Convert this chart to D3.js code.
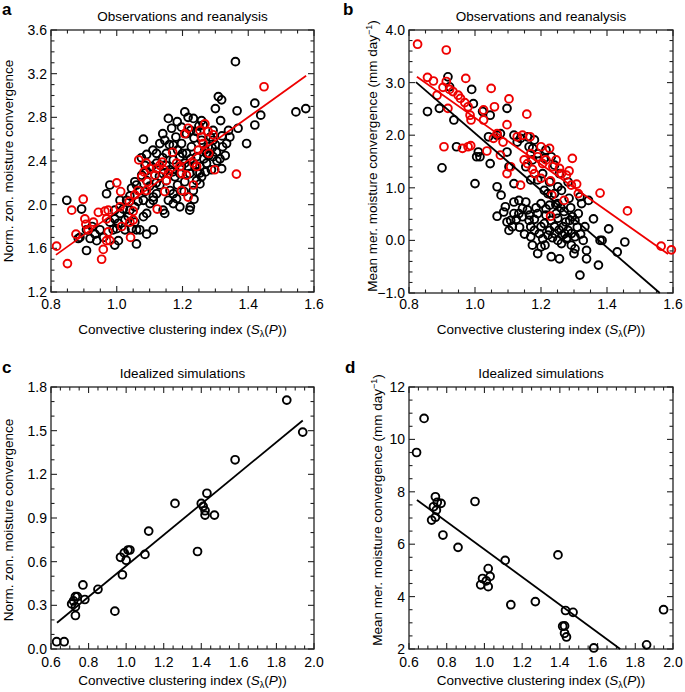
<!DOCTYPE html>
<html><head><meta charset="utf-8">
<script src="https://cdn.jsdelivr.net/npm/d3@7"></script>
<style>body{margin:0;background:#fff}svg{display:block}text{font-family:"Liberation Sans",Arial,Helvetica,sans-serif}</style>
</head><body>
<svg id="c" width="685" height="692"></svg>
<script>
// ---------- DATA ----------
const titleObs = "Observations and reanalysis";
const titleSim = "Idealized simulations";
const yLabelZon = "Norm. zon. moisture convergence";
const yLabelMer = "Mean mer. moisture convergence (mm day";

// Panel a (x: clustering index, y: norm. zonal moisture convergence)
const aBlack = [[1.361,3.31],[1.545,2.85],[1.575,2.88],[1.42,2.93],[1.438,2.82],[1.42,2.73],[1.395,2.56],[1.366,2.86],[1.369,2.70],[1.344,2.62],
[1.309,2.99],[1.319,2.96],[1.30,2.88],[1.316,2.77],[1.322,2.53],[1.314,2.42],[1.319,2.33],[1.293,2.44],[1.258,2.59],[1.233,2.79],
[1.207,2.85],[1.217,2.80],[1.157,2.79],[1.184,2.76],[1.258,2.77],[1.263,2.73],[1.293,2.68],[1.172,2.545],[1.146,2.59],[1.131,2.56],
[1.121,2.47],[1.081,2.60],[1.091,2.46],[1.106,2.35],[1.192,2.44],[1.212,2.47],[1.227,2.53],[1.243,2.44],[1.238,2.35],[1.253,2.29],
[1.273,2.38],[1.288,2.32],[1.172,2.41],[1.162,2.32],[1.177,2.255],[1.197,2.35],[1.207,2.21],[1.222,2.285],[1.233,2.13],[1.253,2.19],
[1.258,2.255],[1.141,2.285],[1.131,2.18],[1.121,2.10],[1.111,2.04],[1.157,2.04],[1.172,2.01],[1.182,2.055],[1.146,1.92],[1.141,1.95],
[1.222,1.95],[1.224,1.98],[1.192,1.98],[1.086,2.36],[1.076,2.27],[1.091,2.22],[1.07,2.13],[1.06,2.18],[1.081,2.04],[1.101,2.01],
[1.111,2.07],[1.055,2.21],[1.091,1.92],[1.045,2.15],[1.03,2.04],[1.02,1.96],[1.01,1.92],[1.035,1.89],[1.055,1.98],[1.055,1.84],
[1.06,1.77],[1.045,1.78],[1.07,1.77],[1.091,1.73],[1.111,1.77],[0.994,1.87],[1.005,1.83],[0.979,1.84],[0.989,1.77],[0.994,1.63],
[1.005,1.67],[0.969,2.10],[0.979,2.18],[0.949,1.77],[0.934,1.73],[0.919,1.69],[0.908,1.77],[0.939,1.67],[0.888,1.70],[0.883,1.69],
[0.908,1.58],[0.848,2.04],[0.893,1.96],[1.06,1.64],[1.167,2.70],[1.197,2.71],[1.212,2.65],[1.243,2.67],[1.278,2.53],[1.293,2.59],
[1.303,2.48],[1.197,2.56],[1.151,2.47],[1.121,2.38],[1.116,2.27],[1.207,2.38],[1.192,2.285],[1.217,2.35],[1.151,2.22],[1.162,2.13],
[1.172,2.10],[1.253,2.35],[1.243,2.22],[1.273,2.47],[1.334,2.56],[1.01,2.04],[0.994,1.95],[1.025,1.77],[1.081,1.89],[1.185,2.50],
[1.235,2.61],[1.268,2.50],[1.29,2.52],[1.305,2.40],[1.33,2.45],[1.14,2.43],[1.16,2.55],[1.09,2.31],[1.04,2.08],[0.96,1.70],
[1.18,2.62],[1.20,2.47],[1.225,2.42],[1.245,2.30],[1.265,2.42],[1.28,2.45],[1.30,2.55],[1.32,2.63],[1.15,2.36],[1.17,2.30],
[1.13,2.26],[1.10,2.17],[1.12,2.20],[1.085,2.12],[1.065,2.03],[1.04,1.95],[1.025,1.86],[1.00,1.78],[1.185,2.18],[1.205,2.12],
[1.235,2.05],[1.27,2.30],[1.285,2.62],[1.34,2.68],[1.25,2.72],[1.225,2.68],[1.14,2.65],[1.11,2.50],[1.075,2.43],[0.925,1.80]];
const aRed = [[0.817,1.62],[0.85,1.46],[0.863,1.95],[0.898,2.05],[0.876,1.73],[0.903,1.87],[0.906,1.82],[0.913,1.77],[0.929,1.84],[0.944,1.93],
[0.964,1.94],[0.969,1.87],[0.974,1.95],[0.974,1.75],[0.969,1.67],[0.959,1.59],[0.954,1.50],[0.979,1.67],[1.0,2.20],[1.012,2.12],
[1.01,1.98],[1.015,1.80],[1.04,1.84],[1.042,1.70],[1.038,2.03],[1.05,1.94],[1.055,2.09],[1.065,2.13],[1.067,2.41],[1.076,2.255],
[1.083,2.30],[1.09,2.38],[1.093,2.21],[1.09,2.13],[1.123,1.96],[1.116,2.27],[1.121,2.33],[1.131,2.36],[1.139,2.39],[1.143,2.32],
[1.146,2.12],[1.151,2.22],[1.157,2.285],[1.17,2.48],[1.182,2.38],[1.192,2.35],[1.197,2.285],[1.197,2.13],[1.217,2.07],[1.207,2.65],
[1.217,2.70],[1.212,2.27],[1.233,2.38],[1.243,2.35],[1.233,2.18],[1.248,2.50],[1.253,2.68],[1.258,2.62],[1.268,2.74],[1.278,2.67],
[1.293,2.64],[1.28,2.47],[1.298,2.32],[1.263,2.56],[1.364,2.28],[1.448,3.08],[1.101,2.33],[1.05,1.86]];
const aRedFit = [[0.815,1.54],[1.576,3.18]];

// Panel b (y: mean meridional moisture convergence, mm/day)
const bBlack = [[0.856,2.45],[0.892,2.51],[0.90,1.38],[0.918,3.11],[0.923,2.92],[0.936,2.29],[0.944,1.78],[0.99,2.87],[0.995,2.60],[1.0,1.08],
[1.005,1.59],[1.015,1.59],[1.01,1.68],[1.023,2.45],[1.046,2.38],[1.046,1.46],[1.041,1.97],[1.067,2.00],[1.077,2.03],[1.097,2.51],
[1.097,1.68],[1.103,1.40],[1.118,2.00],[1.118,1.08],[1.128,1.87],[1.138,1.94],[1.159,1.97],[1.164,1.78],[1.18,1.91],[1.19,1.65],
[1.21,1.56],[1.231,1.59],[1.241,1.43],[1.256,1.27],[1.21,0.95],[1.221,0.89],[1.241,0.89],[1.251,1.02],[1.067,1.02],[1.079,0.86],
[1.067,0.46],[1.092,0.64],[1.097,0.35],[1.103,0.19],[1.113,0.26],[1.118,0.73],[1.133,0.76],[1.144,0.61],[1.154,0.73],[1.144,0.45],
[1.164,0.38],[1.169,0.26],[1.169,0.07],[1.174,-0.09],[1.19,-0.25],[1.2,-0.12],[1.212,-0.09],[1.231,-0.31],[1.256,-0.35],[1.19,0.51],
[1.2,0.70],[1.215,0.48],[1.226,0.67],[1.21,0.32],[1.226,0.19],[1.246,0.51],[1.251,0.70],[1.267,0.26],[1.272,0.13],[1.277,0.03],
[1.282,0.19],[1.292,0.13],[1.303,0.07],[1.303,0.38],[1.313,0.51],[1.323,0.70],[1.344,0.76],[1.333,0.26],[1.328,0.0],[1.338,-0.19],
[1.338,-0.35],[1.318,-0.66],[1.374,-0.47],[1.359,0.41],[1.405,0.22],[1.379,0.0],[1.385,0.0],[1.431,-0.22],[1.454,-0.03],[1.303,-0.16],
[1.292,-0.09],[1.251,0.0],[1.221,0.10],[1.195,0.13],[1.18,0.19],[1.241,0.13],[1.262,-0.06],[1.2,0.26],[1.159,0.58],[1.133,0.51],
[1.118,0.51],[1.108,0.38],[1.087,0.54],[1.154,1.40],[1.169,1.15],[1.19,1.15],[1.205,1.27],[1.174,1.53],[1.226,1.11],[1.262,0.95],
[1.282,1.11],[1.318,0.83],[1.251,0.42],[1.287,0.38],[1.241,0.26],[1.27,0.55],[1.29,0.62],[1.18,0.40],[1.235,0.05],[1.265,0.10],
[1.255,0.20],[1.275,0.35],[1.295,0.45],[1.31,0.25],[1.26,0.62],[1.285,0.80],[1.23,0.38],[1.245,0.68],[1.215,0.60],[1.185,0.62],
[1.165,0.48],[1.125,0.40],[1.135,0.25],[1.32,0.12],[1.30,-0.25],[1.28,0.05],[1.205,0.03],[1.15,0.12],[1.175,1.75],[1.215,1.72]];
const bRed = [[0.826,3.73],[0.913,3.62],[0.856,3.10],[0.874,3.03],[0.885,2.76],[0.903,2.91],[0.913,3.02],[0.923,2.87],[0.933,2.83],[0.949,2.76],
[0.956,2.70],[0.972,3.08],[0.969,2.62],[0.979,2.54],[0.918,2.51],[0.985,2.38],[0.988,2.29],[1.026,2.48],[1.026,2.29],[1.049,2.89],
[1.059,2.54],[1.103,2.69],[1.097,2.20],[1.157,2.40],[0.906,1.78],[0.962,1.75],[0.979,1.78],[0.987,1.80],[1.036,1.70],[1.056,1.94],
[1.067,2.03],[1.085,1.87],[1.077,1.62],[1.097,1.27],[1.108,1.40],[1.138,1.05],[1.128,1.97],[1.144,2.00],[1.167,1.97],[1.149,1.53],
[1.159,1.46],[1.174,1.35],[1.18,1.27],[1.2,1.78],[1.226,1.75],[1.205,1.46],[1.229,1.13],[1.233,0.86],[1.229,0.46],[1.246,1.53],
[1.256,1.37],[1.27,0.76],[1.285,1.32],[1.295,1.56],[1.292,1.05],[1.308,1.07],[1.313,0.89],[1.379,0.90],[1.462,0.56],[1.564,-0.11],
[1.595,-0.18],[1.19,1.59],[1.215,1.53],[1.236,1.40],[1.262,1.27],[1.277,1.24],[1.2,1.18],[1.169,1.65]];
const bBlackFit = [[0.821,3.01],[1.56,-1.0]];
const bRedFit = [[0.824,3.11],[1.585,-0.26]];

// Panels c and d (idealized simulations)
const cPts = [[0.63,0.05],[0.67,0.05],[0.71,0.31],[0.72,0.33],[0.73,0.36],[0.74,0.36],[0.73,0.29],[0.73,0.23],[0.77,0.44],[0.78,0.34],
[0.85,0.41],[0.94,0.26],[0.97,0.63],[0.98,0.51],[0.99,0.66],[1.0,0.61],[1.01,0.68],[1.02,0.68],[1.10,0.65],[1.12,0.81],
[1.26,1.00],[1.38,0.67],[1.40,1.00],[1.41,0.98],[1.42,0.95],[1.42,0.92],[1.43,1.07],[1.47,0.92],[1.58,1.30],[1.855,1.71],[1.94,1.49]];
const cFit = [[0.632,0.18],[1.94,1.57]];
const dPts = [[0.64,9.5],[0.68,10.8],[0.74,7.81],[0.75,7.6],[0.73,7.43],[0.77,7.56],[0.72,6.92],[0.74,7.03],[0.745,7.3],[0.78,6.35],
[0.86,5.88],[0.95,7.63],[0.99,4.69],[0.98,4.45],[1.01,4.6],[1.02,4.38],[1.02,5.07],[1.03,4.77],[1.11,5.38],[1.14,3.69],
[1.27,3.81],[1.39,5.59],[1.43,3.47],[1.47,3.4],[1.415,2.87],[1.425,2.88],[1.425,2.6],[1.435,2.46],[1.58,2.04],[1.86,2.16],[1.95,3.5]];
const dFit = [[0.642,7.69],[1.72,2.0]];

// ---------- DRAWING ----------
const svg = d3.select("#c");
const RED = "#ee0000", BLK = "#000";
const fmt1 = v => (v < 0 ? "\u2212" : "") + Math.abs(v).toFixed(1);
const fmt0 = v => String(v);

function range(a, b, s) { const n = Math.round((b - a) / s); return d3.range(n + 1).map(i => +(a + i * s).toFixed(6)); }

function panel(o) {
  const x = d3.scaleLinear().domain(o.xd).range([o.l, o.r]);
  const y = d3.scaleLinear().domain(o.yd).range([o.b, o.t]);
  const g = svg.append("g");
  g.append("rect").attr("x", o.l).attr("y", o.t).attr("width", o.r - o.l).attr("height", o.b - o.t)
    .attr("fill", "none").attr("stroke", "#222").attr("stroke-width", 1.3);
  const xMaj = range(o.xd[0], o.xd[1], o.xs), xMin = range(o.xd[0], o.xd[1], o.xm);
  const yMaj = range(o.yd[0], o.yd[1], o.ys), yMin = range(o.yd[0], o.yd[1], o.ym);
  const tk = g.append("g").attr("stroke", "#222").attr("stroke-width", 1.1);
  const isMaj = (v, arr) => arr.some(m => Math.abs(m - v) < 1e-6);
  xMin.forEach(v => {
    const L = isMaj(v, xMaj) ? 6 : 3.5, px = x(v);
    tk.append("line").attr("x1", px).attr("x2", px).attr("y1", o.b).attr("y2", o.b - L);
    tk.append("line").attr("x1", px).attr("x2", px).attr("y1", o.t).attr("y2", o.t + L);
  });
  yMin.forEach(v => {
    const L = isMaj(v, yMaj) ? 6 : 3.5, py = y(v);
    tk.append("line").attr("y1", py).attr("y2", py).attr("x1", o.l).attr("x2", o.l + L);
    tk.append("line").attr("y1", py).attr("y2", py).attr("x1", o.r).attr("x2", o.r - L);
  });
  g.selectAll(".xl").data(xMaj).join("text").attr("x", d => x(d)).attr("y", o.b + o.xlo)
    .attr("text-anchor", "middle").attr("font-size", 14).text(d => d.toFixed(1));
  g.selectAll(".yl").data(yMaj).join("text").attr("x", o.l - 4).attr("y", d => y(d) + 5)
    .attr("text-anchor", "end").attr("font-size", 14).text(d => o.yf(d));
  g.append("text").attr("x", (o.l + o.r) / 2).attr("y", o.t - 9).attr("text-anchor", "middle")
    .attr("font-size", 13.5).text(o.title);
  g.append("text").attr("x", o.lx).attr("y", o.ly).attr("font-size", 17).attr("font-weight", "bold").text(o.letter);
  const xt = g.append("text").attr("x", (o.l + o.r) / 2).attr("y", o.b + o.xto).attr("text-anchor", "middle").attr("font-size", 13.5);
  xt.append("tspan").text("Convective clustering index (");
  xt.append("tspan").attr("font-style", "italic").text("S");
  xt.append("tspan").attr("font-size", 9).attr("dy", 3).text("\u03bb");
  xt.append("tspan").attr("dy", -3).text("(");
  xt.append("tspan").attr("font-style", "italic").text("P");
  xt.append("tspan").text("))");
  const yt = g.append("text").attr("transform", `translate(${o.ylx},${o.yly}) rotate(-90)`)
    .attr("text-anchor", "middle").attr("font-size", 13.5);
  yt.append("tspan").text(o.ylab);
  if (o.sup) {
    yt.append("tspan").attr("font-size", 9).attr("dy", -5).text("\u22121");
    yt.append("tspan").attr("dy", 5).text(")");
  }
  o.series.forEach(s => {
    g.append("g").selectAll("circle").data(s.pts).join("circle")
      .attr("cx", d => x(d[0])).attr("cy", d => y(d[1])).attr("r", 3.9)
      .attr("fill", "none").attr("stroke", s.color).attr("stroke-width", 1.9);
  });
  const line = d3.line().x(d => x(d[0])).y(d => y(d[1]));
  o.fits.forEach(f => {
    g.append("path").attr("d", line(f.pts)).attr("fill", "none").attr("stroke", f.color).attr("stroke-width", 1.8);
  });
}

panel({ l: 51, r: 314, t: 30, b: 292, xd: [0.8, 1.6], xs: 0.2, xm: 0.05, yd: [1.2, 3.6], ys: 0.4, ym: 0.1, yf: fmt1,
  title: titleObs, letter: "a", lx: 2, ly: 15, xlo: 17, xto: 42, ylab: yLabelZon, sup: false, ylx: 13, yly: 161,
  series: [{ pts: aBlack, color: BLK }, { pts: aRed, color: RED }], fits: [{ pts: aRedFit, color: RED }] });

panel({ l: 409, r: 673, t: 30, b: 293, xd: [0.8, 1.6], xs: 0.2, xm: 0.05, yd: [-1, 4], ys: 1, ym: 0.2, yf: fmt1,
  title: titleObs, letter: "b", lx: 343, ly: 15, xlo: 16, xto: 41, ylab: yLabelMer, sup: true, ylx: 377, yly: 156,
  series: [{ pts: bBlack, color: BLK }, { pts: bRed, color: RED }], fits: [{ pts: bBlackFit, color: BLK }, { pts: bRedFit, color: RED }] });

panel({ l: 51, r: 314, t: 387, b: 649, xd: [0.6, 2.0], xs: 0.2, xm: 0.05, yd: [0, 1.8], ys: 0.3, ym: 0.1, yf: fmt1,
  title: titleSim, letter: "c", lx: 2, ly: 373, xlo: 18, xto: 36, ylab: yLabelZon, sup: false, ylx: 13, yly: 520,
  series: [{ pts: cPts, color: BLK }], fits: [{ pts: cFit, color: BLK }] });

panel({ l: 409, r: 673, t: 387, b: 649, xd: [0.6, 2.0], xs: 0.2, xm: 0.05, yd: [2, 12], ys: 2, ym: 0.5, yf: fmt0,
  title: titleSim, letter: "d", lx: 345, ly: 373, xlo: 18, xto: 36, ylab: yLabelMer, sup: true, ylx: 382, yly: 510,
  series: [{ pts: dPts, color: BLK }], fits: [{ pts: dFit, color: BLK }] });
</script>
</body></html>
